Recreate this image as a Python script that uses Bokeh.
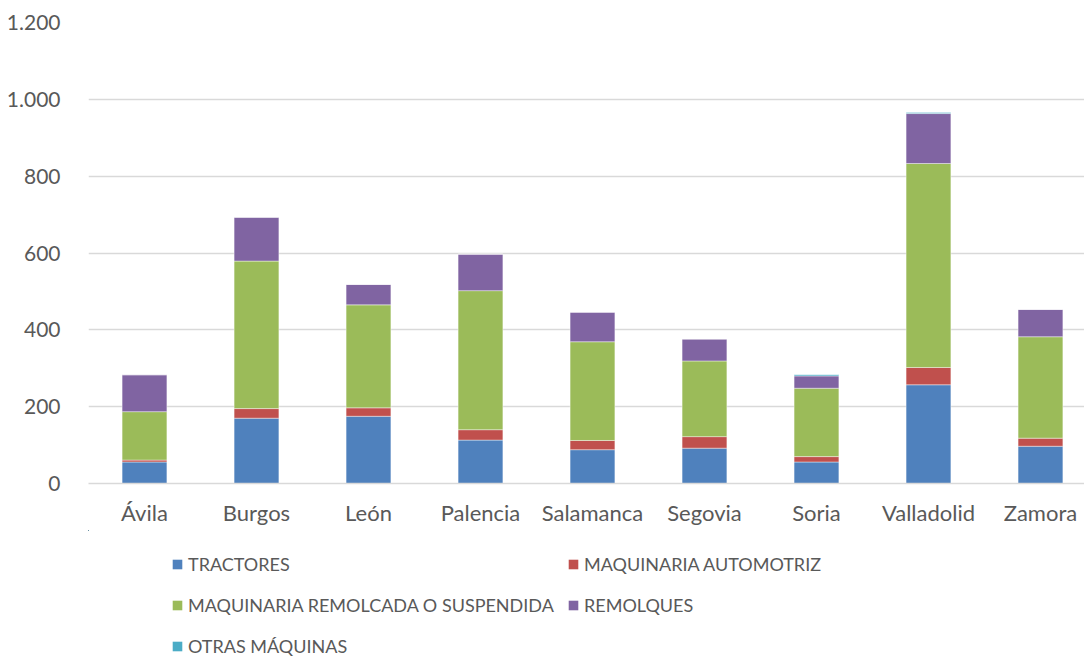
from bokeh.plotting import figure
from bokeh.models import ColumnDataSource, Range1d, FixedTicker, Legend, LegendItem
from bokeh.layouts import column
from bokeh.embed import file_html
from bokeh.resources import INLINE

provincias = ["Ávila", "Burgos", "León", "Palencia", "Salamanca", "Segovia", "Soria", "Valladolid", "Zamora"]
tractores = [56, 170, 175, 113, 88, 92, 56, 257, 97]
automotriz = [5, 25, 22, 27, 24, 30, 14, 45, 21]
remolcada = [126, 384, 268, 362, 257, 197, 178, 531, 264]
remolques = [96, 114, 53, 95, 77, 57, 32, 130, 71]
otras = [0, 0, 0, 0, 0, 0, 3, 3, 0]

series_keys = ["tractores", "automotriz", "remolcada", "remolques", "otras"]
series_names = ["TRACTORES", "MAQUINARIA AUTOMOTRIZ", "MAQUINARIA REMOLCADA O SUSPENDIDA", "REMOLQUES", "OTRAS MÁQUINAS"]
series_colors = ["#4f81bd", "#c0504d", "#9bbb59", "#8064a2", "#4bacc6"]

y_ticks = [0, 200, 400, 600, 800, 1000, 1200]
y_tick_labels = ["0", "200", "400", "600", "800", "1.000", "1.200"]

FONT = "Lato"
TXT = "#595959"

source = ColumnDataSource(dict(
    x=list(range(len(provincias))),
    tractores=tractores, automotriz=automotriz, remolcada=remolcada,
    remolques=remolques, otras=otras,
))

p = figure(width=1084, height=530, output_backend="svg", toolbar_location=None,
           x_range=Range1d(-0.5, 8.393), y_range=Range1d(0, 1200),
           min_border_left=88, min_border_top=22, min_border_right=0, min_border_bottom=47)
p.outline_line_color = None
p.background_fill_color = "white"

renderers = p.vbar_stack(series_keys, x="x", width=0.4, color=series_colors, source=source,
                         line_color="white", line_width=0.6, line_alpha=0.7)

p.xaxis.ticker = FixedTicker(ticks=list(range(len(provincias))))
p.xaxis.major_label_overrides = {i: n for i, n in enumerate(provincias)}
p.xaxis.major_tick_line_color = None
p.xaxis.minor_tick_line_color = None
p.xaxis.axis_line_color = "#d9d9d9"
p.xaxis.axis_line_width = 1.3
p.xaxis.major_label_standoff = 9
p.xaxis.major_label_text_font = FONT
p.xaxis.major_label_text_font_size = "22px"
p.xaxis.major_label_text_color = TXT

p.yaxis.ticker = FixedTicker(ticks=y_ticks)
p.yaxis.major_label_overrides = {t: l for t, l in zip(y_ticks, y_tick_labels)}
p.yaxis.major_tick_line_color = None
p.yaxis.minor_tick_line_color = None
p.yaxis.axis_line_color = None
p.yaxis.major_label_standoff = 22
p.yaxis.major_label_text_font = FONT
p.yaxis.major_label_text_font_size = "21px"
p.yaxis.major_label_text_color = TXT

p.xgrid.grid_line_color = None
p.ygrid.grid_line_color = "#d9d9d9"
p.ygrid.grid_line_width = 1.3

# legend strip below the chart (same series, kept far outside its visible range so only the legend shows)
lf = figure(width=1084, height=127, output_backend="svg", toolbar_location=None,
            x_range=Range1d(1000, 1001), y_range=Range1d(-20000, -19999),
            x_axis_location=None, y_axis_location=None, min_border=0)
lf.outline_line_color = None
lf.xgrid.grid_line_color = None
lf.ygrid.grid_line_color = None
leg_r = lf.vbar_stack(series_keys, x="x", width=0.4, color=series_colors, source=source,
                      line_color=None)

def make_legend(idx, x, y):
    return Legend(items=[LegendItem(label=series_names[i], renderers=[leg_r[i]]) for i in idx],
                  orientation="vertical", glyph_width=12, glyph_height=12, label_standoff=5,
                  label_height=24, spacing=17, padding=0, margin=0,
                  border_line_color=None, background_fill_alpha=0,
                  label_text_font=FONT, label_text_font_size="18px", label_text_color=TXT,
                  location=(x, y))

lf.add_layout(make_legend([0, 2, 4], 83, -1), "center")
lf.add_layout(make_legend([1, 3], 479, 40), "center")

layout = column(p, lf, spacing=0)
open("out.html", "w").write(file_html(layout, INLINE))
